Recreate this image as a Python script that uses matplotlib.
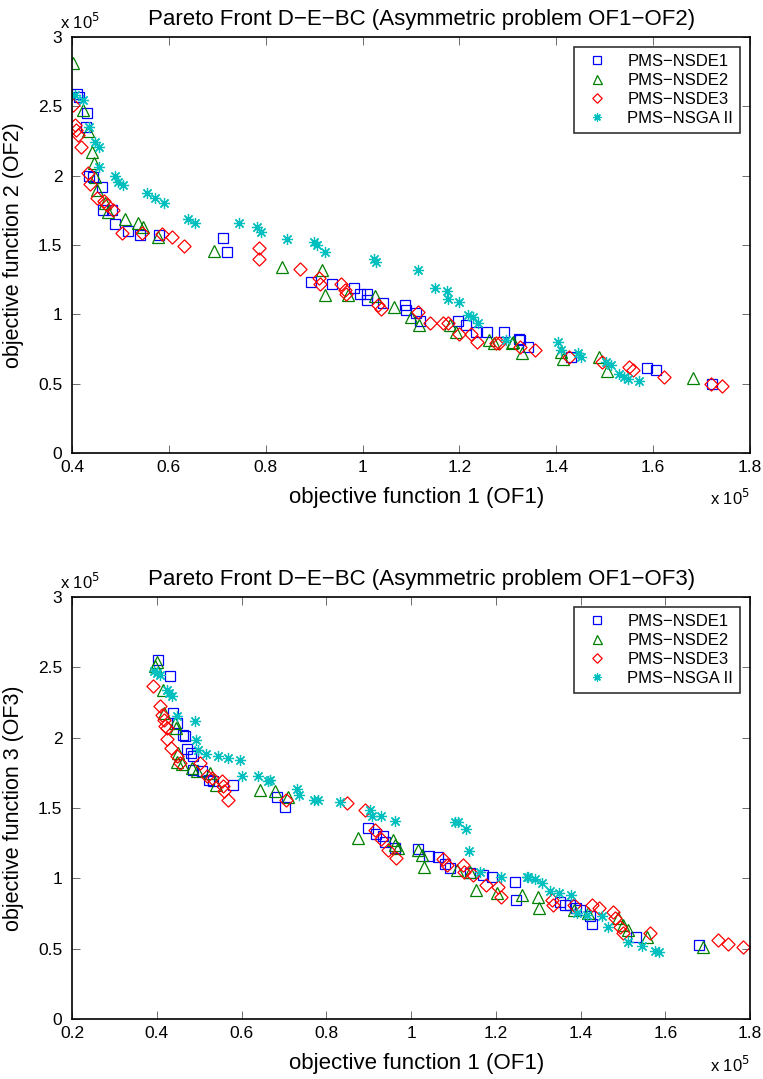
import matplotlib
matplotlib.use("Agg")
import matplotlib.pyplot as plt

plt.rcParams["font.family"] = ["Liberation Sans", "DejaVu Sans"]

# ------------------------------------------------------------------ #
# data (units of 1e5)
# ------------------------------------------------------------------ #
LABELS = ["PMS\u2212NSDE1", "PMS\u2212NSDE2", "PMS\u2212NSDE3", "PMS\u2212NSGA II"]

# --- OF1 vs OF2 ---
top_nsde1_x = [0.410, 0.415, 0.430, 0.428, 0.436, 0.444, 0.461, 0.463, 0.482, 0.489,
               0.516, 0.540, 0.580, 0.711, 0.720, 0.894, 0.937, 0.983, 0.994, 1.009,
               1.010, 1.043, 1.087, 1.090, 1.110, 1.118, 1.197, 1.214, 1.234, 1.256,
               1.291, 1.322, 1.324, 1.341, 1.430, 1.588, 1.605, 1.722]
top_nsde1_y = [2.59, 2.57, 2.45, 2.35, 2.00, 1.99, 1.92, 1.75, 1.75, 1.65,
               1.60, 1.57, 1.57, 1.55, 1.45, 1.235, 1.22, 1.19, 1.15, 1.15,
               1.10, 1.08, 1.07, 1.03, 1.01, 0.95, 0.95, 0.92, 0.875, 0.87,
               0.87, 0.82, 0.815, 0.766, 0.694, 0.61, 0.598, 0.497]

top_nsde2_x = [0.401, 0.423, 0.434, 0.442, 0.446, 0.447, 0.451, 0.468, 0.475, 0.509,
               0.537, 0.547, 0.578, 0.693, 0.834, 0.916, 0.923, 0.970, 1.025, 1.064,
               1.100, 1.116, 1.181, 1.193, 1.262, 1.272, 1.308, 1.310, 1.330, 1.410,
               1.414, 1.489, 1.504, 1.683]
top_nsde2_y = [2.81, 2.47, 2.32, 2.17, 2.09, 1.99, 1.90, 1.80, 1.74, 1.69,
               1.66, 1.63, 1.56, 1.46, 1.34, 1.32, 1.14, 1.14, 1.13, 1.055,
               0.98, 0.92, 0.92, 0.87, 0.815, 0.79, 0.795, 0.80, 0.72, 0.73,
               0.675, 0.69, 0.593, 0.538]

top_nsde3_x = [0.403, 0.406, 0.408, 0.413, 0.418, 0.434, 0.437, 0.451, 0.465, 0.472,
               0.485, 0.504, 0.544, 0.585, 0.606, 0.631, 0.786, 0.787, 0.871, 0.911,
               0.913, 0.956, 0.963, 0.966, 1.032, 1.039, 1.114, 1.140, 1.167, 1.176,
               1.200, 1.224, 1.236, 1.276, 1.282, 1.324, 1.355, 1.427, 1.495, 1.551,
               1.558, 1.623, 1.719, 1.743]
top_nsde3_y = [2.51, 2.365, 2.33, 2.29, 2.21, 2.02, 1.94, 1.84, 1.82, 1.79,
               1.75, 1.59, 1.59, 1.58, 1.56, 1.49, 1.475, 1.40, 1.33, 1.26,
               1.22, 1.22, 1.175, 1.15, 1.07, 1.04, 1.02, 0.935, 0.94, 0.94,
               0.86, 0.86, 0.80, 0.795, 0.79, 0.766, 0.74, 0.694, 0.658, 0.62,
               0.598, 0.55, 0.50, 0.483]

top_nsga_x = [0.406, 0.423, 0.436, 0.447, 0.456, 0.456, 0.489, 0.495, 0.506, 0.555,
              0.571, 0.590, 0.640, 0.654, 0.745, 0.781, 0.790, 0.843, 0.900, 0.905,
              0.922, 1.023, 1.028, 1.114, 1.150, 1.174, 1.176, 1.200, 1.217, 1.227,
              1.238, 1.296, 1.403, 1.410, 1.444, 1.450, 1.502, 1.512, 1.530, 1.540,
              1.547, 1.571]
top_nsga_y = [2.58, 2.545, 2.35, 2.245, 2.21, 2.06, 2.00, 1.955, 1.93, 1.877,
              1.836, 1.80, 1.685, 1.66, 1.66, 1.63, 1.595, 1.54, 1.52, 1.50,
              1.45, 1.40, 1.38, 1.32, 1.19, 1.17, 1.11, 1.09, 0.995, 0.98,
              0.935, 0.815, 0.80, 0.74, 0.72, 0.69, 0.658, 0.634, 0.57, 0.545,
              0.53, 0.52]

# --- OF1 vs OF3 ---
bot_nsde1_x = [0.404, 0.431, 0.439, 0.447, 0.463, 0.467, 0.471, 0.481, 0.485, 0.486,
               0.506, 0.524, 0.533, 0.581, 0.683, 0.703, 0.899, 0.917, 0.933, 0.939,
               0.962, 1.017, 1.043, 1.063, 1.080, 1.092, 1.138, 1.171, 1.190, 1.245,
               1.248, 1.352, 1.363, 1.375, 1.389, 1.399, 1.422, 1.426, 1.531, 1.680]
bot_nsde1_y = [2.555, 2.436, 2.175, 2.105, 2.02, 2.01, 1.92, 1.89, 1.87, 1.77,
               1.76, 1.70, 1.69, 1.665, 1.58, 1.51, 1.357, 1.317, 1.30, 1.255,
               1.215, 1.21, 1.16, 1.15, 1.10, 1.077, 1.037, 1.025, 1.01, 0.977,
               0.847, 0.835, 0.81, 0.81, 0.788, 0.776, 0.733, 0.676, 0.586, 0.527]

bot_nsde2_x = [0.400, 0.396, 0.414, 0.418, 0.443, 0.445, 0.451, 0.447, 0.459, 0.482,
               0.494, 0.526, 0.540, 0.644, 0.679, 0.710, 0.876, 0.958, 0.962, 0.970,
               1.017, 1.025, 1.031, 1.108, 1.138, 1.153, 1.202, 1.261, 1.300, 1.303,
               1.385, 1.418, 1.489, 1.501, 1.513, 1.556, 1.690]
bot_nsde2_y = [2.54, 2.51, 2.34, 2.176, 2.105, 2.07, 1.89, 1.824, 1.81, 1.785,
               1.76, 1.75, 1.665, 1.63, 1.62, 1.58, 1.286, 1.274, 1.238, 1.215,
               1.20, 1.167, 1.084, 1.06, 1.048, 0.918, 0.895, 0.883, 0.87, 0.788,
               0.776, 0.752, 0.717, 0.669, 0.633, 0.58, 0.51]

bot_nsde3_x = [0.390, 0.408, 0.412, 0.416, 0.419, 0.423, 0.425, 0.434, 0.447, 0.455,
               0.502, 0.518, 0.530, 0.553, 0.557, 0.559, 0.569, 0.706, 0.850, 0.891,
               0.915, 0.930, 0.946, 0.964, 1.076, 1.084, 1.122, 1.125, 1.147, 1.178,
               1.206, 1.212, 1.332, 1.336, 1.385, 1.426, 1.444, 1.476, 1.481, 1.493,
               1.500, 1.564, 1.725, 1.749, 1.784]
bot_nsde3_y = [2.37, 2.228, 2.164, 2.128, 2.085, 2.07, 1.99, 1.927, 1.867, 1.82,
               1.82, 1.73, 1.713, 1.69, 1.653, 1.618, 1.559, 1.559, 1.535, 1.483,
               1.345, 1.279, 1.203, 1.144, 1.137, 1.096, 1.096, 1.048, 1.025, 0.954,
               0.942, 0.866, 0.847, 0.811, 0.811, 0.811, 0.788, 0.764, 0.717, 0.657,
               0.61, 0.61, 0.562, 0.534, 0.51]

bot_nsga_x = [0.394, 0.400, 0.408, 0.423, 0.430, 0.435, 0.447, 0.490, 0.493, 0.498,
              0.516, 0.545, 0.569, 0.596, 0.600, 0.640, 0.663, 0.667, 0.732, 0.736,
              0.770, 0.780, 0.832, 0.903, 0.907, 0.930, 0.962, 1.104, 1.112, 1.130,
              1.137, 1.163, 1.212, 1.273, 1.277, 1.293, 1.308, 1.328, 1.350, 1.377,
              1.391, 1.415, 1.450, 1.466, 1.513, 1.544, 1.576, 1.586]
bot_nsga_y = [2.472, 2.46, 2.448, 2.342, 2.318, 2.294, 2.157, 2.116, 1.986, 1.915,
              1.886, 1.867, 1.855, 1.843, 1.725, 1.725, 1.689, 1.70, 1.635, 1.594,
              1.559, 1.555, 1.54, 1.483, 1.445, 1.445, 1.411, 1.404, 1.397, 1.35,
              1.196, 1.048, 1.013, 1.008, 1.008, 0.994, 0.97, 0.913, 0.895, 0.883,
              0.757, 0.74, 0.733, 0.657, 0.55, 0.52, 0.486, 0.479]

# ------------------------------------------------------------------ #
# style
# ------------------------------------------------------------------ #
STYLES = [
    dict(marker="s", color="#0000ff", ms=7.3),
    dict(marker="^", color="#008000", ms=9.0),
    dict(marker=(4, 0, 0), color="#ff0000", ms=9.5),
    dict(marker=(8, 2, 0), color="#00bfbf", ms=8.0),
]


def _panel(ax, series, xlim, xticks, xtick_labels, ylabel, title):
    for (x, y), st, lab in zip(series, STYLES, LABELS):
        ax.plot(x, y, linestyle="none", marker=st["marker"], ms=st["ms"],
                markerfacecolor="none", markeredgecolor=st["color"],
                markeredgewidth=0.9, label=lab)
    ax.set_xlim(*xlim)
    ax.set_ylim(0, 3)
    ax.set_xticks(xticks)
    ax.set_xticklabels(xtick_labels)
    ax.set_yticks([0, 0.5, 1, 1.5, 2, 2.5, 3])
    ax.set_yticklabels(["0", "0.5", "1", "1.5", "2", "2.5", "3"])
    ax.tick_params(direction="in", top=True, right=True, length=6,
                   width=0.6, labelsize=12.5, color="#555555")
    ax.tick_params(axis="x", pad=5)
    ax.tick_params(axis="y", pad=7)
    for sp in ax.spines.values():
        sp.set_linewidth(1.2)
    ax.set_xlabel("objective function 1 (OF1)", fontsize=16, labelpad=9, x=0.508)
    ax.set_ylabel(ylabel, fontsize=15.5, labelpad=10)
    ax.set_title(title, fontsize=16, pad=9, x=0.515)
    ax.text(-0.018, 1.012, "x 10$^5$", transform=ax.transAxes, fontsize=12,
            ha="left", va="bottom")
    ax.text(1.0, -0.085, "x 10$^5$", transform=ax.transAxes, fontsize=12,
            ha="right", va="top")
    leg = ax.legend(loc="upper right", fontsize=12, frameon=True, fancybox=False,
                    edgecolor="black", handlelength=2.0, handletextpad=0.8,
                    borderpad=0.4, labelspacing=0.25, borderaxespad=0.6,
                    markerscale=0.72)
    leg.get_frame().set_linewidth(1.2)


fig = plt.figure(figsize=(7.63, 10.79), dpi=100)
ax1 = fig.add_axes([0.0944, 0.5802, 0.8886, 0.3855])
ax2 = fig.add_axes([0.0944, 0.0556, 0.8886, 0.3911])

_panel(ax1,
       [(top_nsde1_x, top_nsde1_y), (top_nsde2_x, top_nsde2_y),
        (top_nsde3_x, top_nsde3_y), (top_nsga_x, top_nsga_y)],
       (0.4, 1.8), [0.4, 0.6, 0.8, 1.0, 1.2, 1.4, 1.6, 1.8],
       ["0.4", "0.6", "0.8", "1", "1.2", "1.4", "1.6", "1.8"],
       "objective function 2 (OF2)",
       "Pareto Front D\u2212E\u2212BC (Asymmetric problem OF1\u2212OF2)")

_panel(ax2,
       [(bot_nsde1_x, bot_nsde1_y), (bot_nsde2_x, bot_nsde2_y),
        (bot_nsde3_x, bot_nsde3_y), (bot_nsga_x, bot_nsga_y)],
       (0.2, 1.8), [0.2, 0.4, 0.6, 0.8, 1.0, 1.2, 1.4, 1.6, 1.8],
       ["0.2", "0.4", "0.6", "0.8", "1", "1.2", "1.4", "1.6", "1.8"],
       "objective function 3 (OF3)",
       "Pareto Front D\u2212E\u2212BC (Asymmetric problem OF1\u2212OF3)")

fig.savefig("out.png", dpi=100)
